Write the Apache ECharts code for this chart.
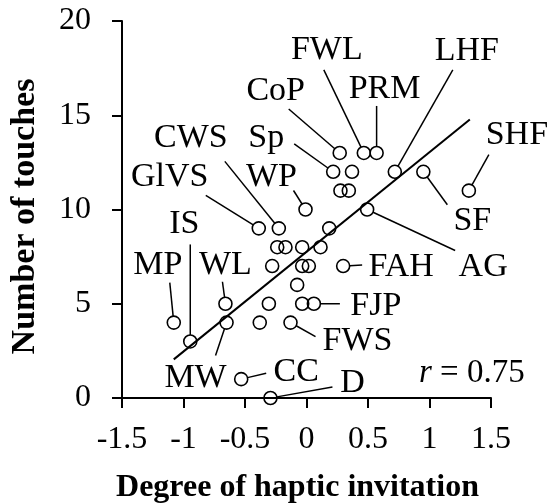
<!DOCTYPE html>
<html>
<head>
<meta charset="utf-8">
<script src="https://cdn.jsdelivr.net/npm/echarts@6/dist/echarts.min.js"></script>
<style>
html,body{margin:0;padding:0;background:#fff;}
#chart{width:547px;height:504px;}
</style>
</head>
<body>
<div id="chart"></div>
<script>
// ---- data ----
var degree = [0.27, 0.466, 0.57, 0.217, 0.37, 0.718, 0.95, 1.32, 0.276, 0.344,
              -0.008, 0.493, -0.388, -0.225, 0.185, -0.238, -0.171, -0.035, 0.114,
              -0.279, -0.035, 0.019, 0.298, -0.076, -0.659, -0.306, -0.035, 0.06,
              -1.079, -0.65, -0.38, -0.13, -0.945, -0.531, -0.293];
var touches = [13, 13, 13, 12, 12, 12, 12, 11, 11, 11,
               10, 10, 9, 9, 9, 8, 8, 8, 8,
               7, 7, 7, 7, 6, 5, 5, 5, 5,
               4, 4, 4, 4, 3, 1, 0];
var names = ['CoP', 'FWL', 'PRM', 'Sp', '', 'LHF', 'SF', 'SHF', '', '',
             'WP', 'AG', 'GlVS', 'CWS', '', '', '', '', '',
             '', '', '', 'FAH', '', 'WL', '', '', 'FJP',
             'MP', 'MW', '', 'FWS', 'IS', 'CC', 'D'];
var fitX = [-1.079, 1.328];
var fitY = [2.05, 14.77];
var xTicks = [-1.5, -1, -0.5, 0, 0.5, 1, 1.5];
var yTicks = [0, 5, 10, 15, 20];
var rText = '0.75';

// ---- label layout (pixel offsets from the point: text dx, dy, leader end dx, dy) ----
var labelLayout = {
  'CoP': [-64, -63, -51, -44],
  'FWL': [-37, -104, -40, -83],
  'PRM': [8, -65, 0, -47],
  'LHF': [72, -122, 58, -102],
  'SHF': [48, -57, 20, -36],
  'Sp': [-67, -35, -39, -28],
  'CWS': [-88, -91, -54, -67],
  'GlVS': [-89, -52, -53, -33],
  'WP': [-34, -33, -12, -19],
  'SF': [49, 48, 24, 33],
  'AG': [116, 57, 88, 41],
  'FAH': [58, 0, 19, -1],
  'FJP': [62, 1, 26, 0],
  'FWS': [67, 17, 25, 14],
  'D': [82, -16, 62, -11],
  'IS': [-6, -118, 0, -97],
  'MP': [-16, -59, -4, -40],
  'WL': [0, -40, -3, -22],
  'MW': [-31, 54, -11, 33],
  'CC': [55, -8, 25, -6]
};

var FONT = '"Liberation Serif", "Times New Roman", serif';
var points = degree.map(function (x, i) { return [x, touches[i]]; });
var labelled = [];
degree.forEach(function (x, i) { if (names[i]) labelled.push([x, touches[i], names[i]]); });
var fitLine = fitX.map(function (x, i) { return [x, fitY[i]]; });

var chart = echarts.init(document.getElementById('chart'), null, {renderer: 'canvas'});
var R = 6.5;
var TEXT_SHIFT = 1;
chart.setOption({
  animation: false,
  backgroundColor: '#fff',
  grid: {left: 122, right: 56, top: 21, bottom: 106, containLabel: false, outerBoundsMode: 'none'},
  xAxis: {
    type: 'value', min: xTicks[0], max: xTicks[xTicks.length - 1], interval: 0.5,
    name: 'Degree of haptic invitation', nameLocation: 'middle', nameGap: 74,
    nameTextStyle: {fontFamily: FONT, fontWeight: 'bold', fontSize: 32, color: '#000', padding: [0, 18, 0, 0]},
    axisLine: {show: true, onZero: false, lineStyle: {color: '#000', width: 2}},
    axisTick: {show: true, inside: false, length: 10, lineStyle: {color: '#000', width: 2}},
    axisLabel: {fontFamily: FONT, fontSize: 32, color: '#000', margin: 26},
    splitLine: {show: false}
  },
  yAxis: {
    type: 'value', min: yTicks[0], max: yTicks[yTicks.length - 1], interval: 5,
    name: 'Number of touches', nameLocation: 'middle', nameGap: 80,
    nameTextStyle: {fontFamily: FONT, fontWeight: 'bold', fontSize: 34, color: '#000', padding: [0, 14, 0, 0]},
    axisLine: {show: true, onZero: false, lineStyle: {color: '#000', width: 2}},
    axisTick: {show: true, inside: false, length: 10, lineStyle: {color: '#000', width: 2}},
    axisLabel: {fontFamily: FONT, fontSize: 32, color: '#000', margin: 31},
    splitLine: {show: false}
  },
  series: [
    {
      type: 'line', data: fitLine, showSymbol: false, symbol: 'none',
      lineStyle: {color: '#000', width: 2}, z: 2, silent: true
    },
    {
      type: 'scatter', data: points, symbol: 'circle', symbolSize: 13,
      itemStyle: {color: 'rgba(0,0,0,0)', borderColor: '#000', borderWidth: 1.6, opacity: 1},
      z: 3, silent: true
    },
    {
      type: 'custom', data: labelled, z: 4, silent: true,
      renderItem: function (params, api) {
        var p = api.coord([api.value(0), api.value(1)]);
        var name = labelled[params.dataIndex][2];
        var L = labelLayout[name];
        var ex = p[0] + L[2], ey = p[1] + L[3];
        var vx = L[2], vy = L[3];
        var len = Math.sqrt(vx * vx + vy * vy) || 1;
        var sx = p[0] + vx / len * R, sy = p[1] + vy / len * R;
        return {
          type: 'group',
          children: [
            {type: 'line', shape: {x1: sx, y1: sy, x2: ex, y2: ey},
             style: {stroke: '#000', lineWidth: 1.5}},
            {type: 'text', style: {text: name, x: p[0] + L[0], y: p[1] + L[1] + TEXT_SHIFT,
             align: 'center', verticalAlign: 'middle',
             fontFamily: FONT, fontSize: 34, fill: '#000'}}
          ]
        };
      }
    }
  ],
  graphic: [
    {
      type: 'text', left: 419, top: 357, silent: true,
      style: {
        text: '{i|r} = ' + rText,
        rich: {i: {fontStyle: 'italic', fontFamily: FONT, fontSize: 33, fill: '#000'}},
        fontFamily: FONT, fontSize: 33, fill: '#000'
      }
    }
  ]
});
</script>
</body>
</html>
